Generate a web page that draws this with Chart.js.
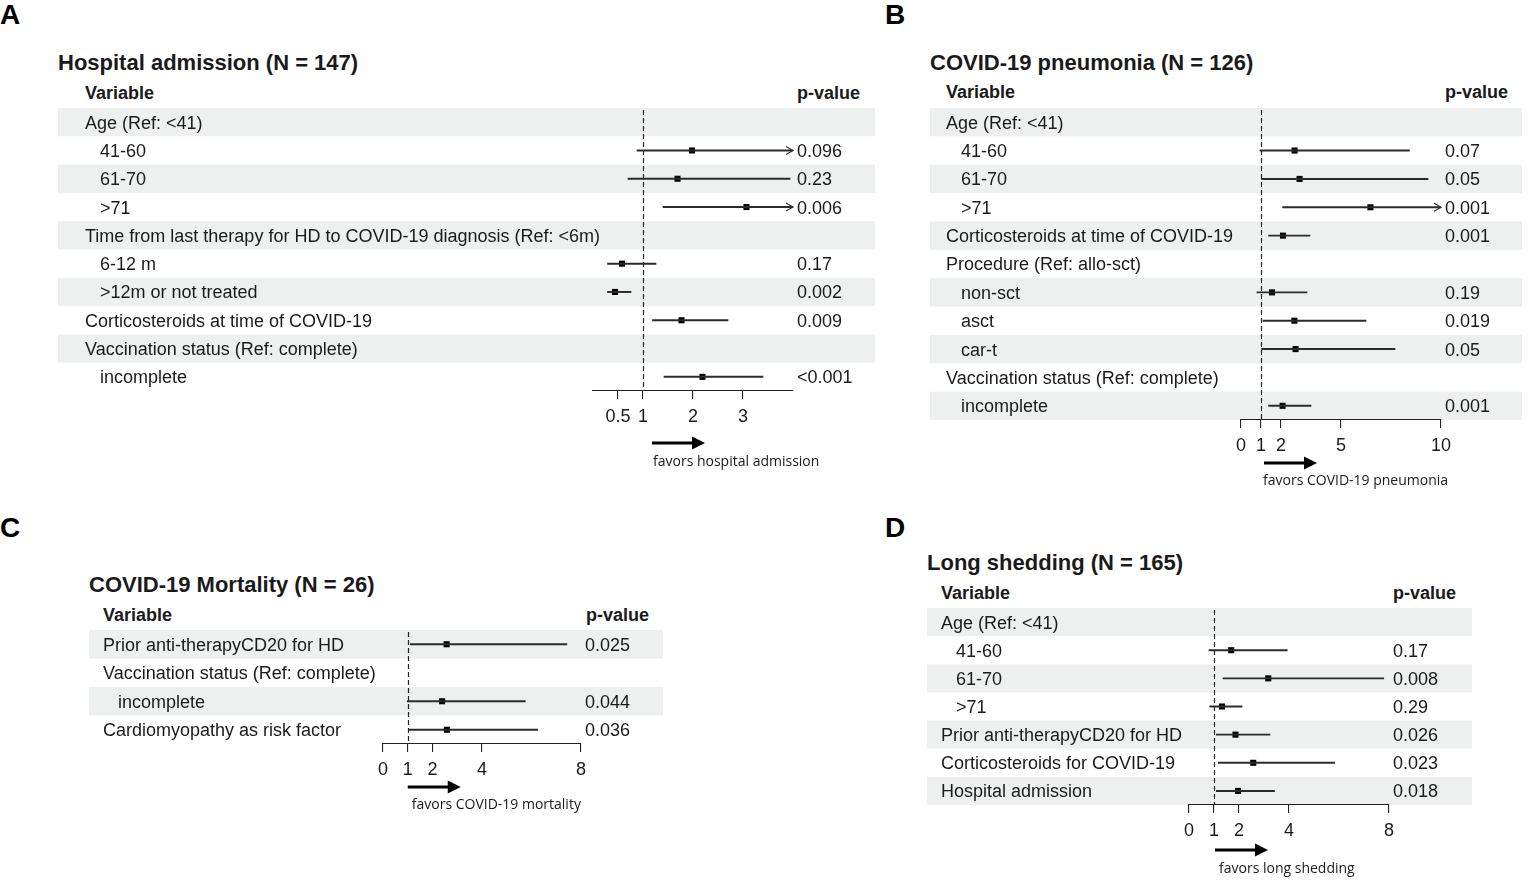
<!DOCTYPE html>
<html>
<head>
<meta charset="utf-8">
<script src="https://cdn.jsdelivr.net/npm/chart.js@4.4.1/dist/chart.umd.min.js"></script>
<style>
  html,body{margin:0;padding:0;background:#fff;}
  body{width:1536px;height:890px;position:relative;overflow:hidden;font-family:"Liberation Sans",Arial,sans-serif;color:#1a1a1a;}
  .t{position:absolute;white-space:nowrap;}
  .letter{font-weight:bold;font-size:28px;line-height:28px;color:#000;}
  .title{font-weight:bold;font-size:22px;line-height:22px;}
  .hdr{font-weight:bold;font-size:18px;line-height:18px;}
  canvas{position:absolute;}
</style>
</head>
<body>
<div class="t letter" style="left:0px;top:1px;">A</div>
<div class="t letter" style="left:885px;top:1px;">B</div>
<div class="t letter" style="left:0px;top:514px;">C</div>
<div class="t letter" style="left:885px;top:514px;">D</div>

<div class="t title" style="left:58px;top:52px;">Hospital admission (N = 147)</div>
<div class="t hdr" style="left:85px;top:84px;">Variable</div>
<div class="t hdr" style="left:797px;top:84px;">p-value</div>

<div class="t title" style="left:930px;top:52px;">COVID-19 pneumonia (N = 126)</div>
<div class="t hdr" style="left:946px;top:83px;">Variable</div>
<div class="t hdr" style="left:1445px;top:83px;">p-value</div>

<div class="t title" style="left:89px;top:574px;">COVID-19 Mortality (N = 26)</div>
<div class="t hdr" style="left:103px;top:606px;">Variable</div>
<div class="t hdr" style="left:586px;top:606px;">p-value</div>

<div class="t title" style="left:927px;top:552px;">Long shedding (N = 165)</div>
<div class="t hdr" style="left:941px;top:584px;">Variable</div>
<div class="t hdr" style="left:1393px;top:584px;">p-value</div>

<canvas id="cA"></canvas>
<canvas id="cB"></canvas>
<canvas id="cC"></canvas>
<canvas id="cD"></canvas>

<script>
// ---------------- DATA ----------------
// Panel A: Hospital admission
const labelsA = ['Age (Ref: <41)', '   41-60', '   61-70', '   >71',
  'Time from last therapy for HD to COVID-19 diagnosis (Ref: <6m)', '   6-12 m', '   >12m or not treated',
  'Corticosteroids at time of COVID-19', 'Vaccination status (Ref: complete)', '   incomplete'];
const orA = [null, 1.98, 1.69, 3.07, null, 0.58, 0.44, 1.77, null, 2.19];
const loA = [null, 0.88, 0.70, 1.40, null, 0.29, 0.29, 1.19, null, 1.42];
const hiA = [null, 4.6, 3.94, 4.8, null, 1.26, 0.76, 2.70, null, 3.40];
const pA = ['', '0.096', '0.23', '0.006', '', '0.17', '0.002', '0.009', '', '<0.001'];
const ticksA = [0.5, 1, 2, 3];
const tickLabelsA = ['0.5', '1', '2', '3'];
const favorsA = 'favors hospital admission';

// Panel B: COVID-19 pneumonia
const labelsB = ['Age (Ref: <41)', '   41-60', '   61-70', '   >71',
  'Corticosteroids at time of COVID-19', 'Procedure (Ref: allo-sct)', '   non-sct', '   asct', '   car-t',
  'Vaccination status (Ref: complete)', '   incomplete'];
const orB = [null, 2.68, 2.93, 6.47, 2.10, null, 1.55, 2.67, 2.73, null, 2.08];
const loB = [null, 0.95, 1.03, 2.08, 1.38, null, 0.80, 1.10, 1.03, null, 1.38];
const hiB = [null, 8.42, 9.35, 12.0, 3.45, null, 3.30, 6.25, 7.70, null, 3.50];
const pB = ['', '0.07', '0.05', '0.001', '0.001', '', '0.19', '0.019', '0.05', '', '0.001'];
const ticksB = [0, 1, 2, 5, 10];
const tickLabelsB = ['0', '1', '2', '5', '10'];
const favorsB = 'favors COVID-19 pneumonia';

// Panel C: COVID-19 Mortality
const labelsC = ['Prior anti-therapyCD20 for HD', 'Vaccination status (Ref: complete)', '   incomplete', 'Cardiomyopathy as risk factor'];
const orC = [2.57, null, 2.39, 2.58];
const loC = [1.10, null, 0.98, 1.05];
const hiC = [7.43, null, 5.75, 6.25];
const pC = ['0.025', '', '0.044', '0.036'];
const ticksC = [0, 1, 2, 4, 8];
const tickLabelsC = ['0', '1', '2', '4', '8'];
const favorsC = 'favors COVID-19 mortality';

// Panel D: Long shedding
const labelsD = ['Age (Ref: <41)', '   41-60', '   61-70', '   >71',
  'Prior anti-therapyCD20 for HD', 'Corticosteroids for COVID-19', 'Hospital admission'];
const orD = [null, 1.69, 3.17, 1.32, 1.86, 2.57, 1.96];
const loD = [null, 0.80, 1.36, 0.83, 1.09, 1.17, 1.09];
const hiD = [null, 3.93, 7.79, 2.12, 3.24, 5.83, 3.42];
const pD = ['', '0.17', '0.008', '0.29', '0.026', '0.023', '0.018'];
const ticksD = [0, 1, 2, 4, 8];
const tickLabelsD = ['0', '1', '2', '4', '8'];
const favorsD = 'favors long shedding';

// ---------------- LAYOUT (positions / styles) ----------------
const FONT = '"Liberation Sans", Arial, sans-serif';
const TEXT = '#1a1a1a';
const STRIPE = '#eef0ef';

const forestPlugin = {
  id: 'forest',
  beforeDraw(chart) {
    const {ctx, chartArea, scales} = chart;
    const y = scales.y;
    const n = y.getLabels().length;
    const h = (chartArea.bottom - chartArea.top) / n;
    ctx.save();
    ctx.fillStyle = STRIPE;
    for (let i = 0; i < n; i++) {
      if (i % 2 === 0) {
        const cy = y.getPixelForValue(i);
        ctx.fillRect(0, cy - h / 2, chart.width, h);
      }
    }
    ctx.restore();
  },
  beforeDatasetsDraw(chart) {
    const {ctx, chartArea, scales} = chart;
    const px = Math.round(scales.x.getPixelForValue(1)) + 0.5;
    ctx.save();
    ctx.strokeStyle = '#222';
    ctx.lineWidth = 1.2;
    ctx.setLineDash([5, 3]);
    ctx.beginPath();
    ctx.moveTo(px, chartArea.top + 2);
    ctx.lineTo(px, chartArea.bottom);
    ctx.stroke();
    ctx.restore();
  },
  afterDatasetsDraw(chart) {
    const {ctx, scales} = chart;
    const x = scales.x, y = scales.y;
    const ci = chart.data.datasets[0].data;
    ctx.save();
    ctx.strokeStyle = '#333';
    ctx.lineWidth = 1.2;
    ci.forEach((v, i) => {
      if (v && v[1] > x.max) {
        const ex = x.getPixelForValue(x.max);
        const ey = y.getPixelForValue(i);
        ctx.beginPath();
        ctx.moveTo(ex - 7, ey - 4);
        ctx.lineTo(ex, ey);
        ctx.lineTo(ex - 7, ey + 4);
        ctx.stroke();
      }
    });
    ctx.restore();
  },
  afterDraw(chart, args, o) {
    const {ctx, chartArea, scales} = chart;
    const p1 = scales.x.getPixelForValue(1);
    const ay = chartArea.bottom + o.arrowDy;
    const x0 = p1 + o.arrowDx, x1 = x0 + 53;
    ctx.save();
    ctx.fillStyle = '#000';
    ctx.strokeStyle = '#000';
    ctx.lineWidth = 3;
    ctx.beginPath();
    ctx.moveTo(x0, ay);
    ctx.lineTo(x1 - 11, ay);
    ctx.stroke();
    ctx.beginPath();
    ctx.moveTo(x1 - 13, ay - 6.5);
    ctx.lineTo(x1, ay);
    ctx.lineTo(x1 - 13, ay + 6.5);
    ctx.closePath();
    ctx.fill();
    ctx.font = '14px "Open Sans", "Noto Sans", sans-serif';
    ctx.fillStyle = '#1a1a1a';
    ctx.textBaseline = 'middle';
    ctx.textAlign = 'left';
    ctx.fillText(o.text, p1 + o.textDx, chartArea.bottom + o.textDy);
    ctx.restore();
  }
};

function makePanel(id, box, labels, or, lo, hi, pvals, tickVals, tickLabels, favors) {
  const cv = document.getElementById(id);
  cv.width = box.width; cv.height = box.height;
  cv.style.left = box.left + 'px'; cv.style.top = box.top + 'px';
  cv.style.width = box.width + 'px'; cv.style.height = box.height + 'px';
  const ci = lo.map((l, i) => (l === null ? null : [l, hi[i]]));
  new Chart(cv, {
    type: 'bar',
    data: {
      labels: labels,
      datasets: [
        {
          type: 'bar', indexAxis: 'y', xAxisID: 'x', yAxisID: 'y',
          data: ci, backgroundColor: '#2b2b2b', borderWidth: 0,
          barThickness: 1.3, clip: 0
        },
        {
          type: 'line', indexAxis: 'y', xAxisID: 'x', yAxisID: 'y',
          data: or, showLine: false, pointStyle: 'rect', pointRadius: 4.3,
          pointBackgroundColor: '#000', pointBorderWidth: 0, clip: false
        }
      ]
    },
    options: {
      indexAxis: 'y',
      responsive: false,
      animation: false,
      events: [],
      layout: { autoPadding: false, padding: { left: box.padLeft, right: 0, top: 0, bottom: box.padBottom } },
      plugins: {
        legend: { display: false }, title: { display: false }, tooltip: { enabled: false },
        forest: { arrowDx: box.arrowDx, arrowDy: box.arrowDy, textDx: box.textDx, textDy: box.textDy, text: favors }
      },
      scales: {
        x: {
          type: 'linear', position: 'bottom', min: box.xMin, max: box.xMax,
          afterBuildTicks: (s) => { s.ticks = tickVals.map(v => ({ value: v })); },
          afterFit: (s) => { s.height = 40; s.paddingLeft = 0; s.paddingRight = 0; },
          ticks: {
            autoSkip: false, maxRotation: 0, padding: 7,
            callback: (v, i) => tickLabels[i],
            font: { family: FONT, size: 18 }, color: TEXT
          },
          grid: { display: true, drawOnChartArea: false, drawTicks: true, tickLength: 8, color: '#222', lineWidth: 1.1 },
          border: { display: true, color: '#222', width: 1.1 }
        },
        y: {
          type: 'category', position: 'left', offset: true,
          afterFit: (s) => { s.width = box.leftW; s.paddingTop = 0; s.paddingBottom = 0; },
          ticks: { autoSkip: false, mirror: true, crossAlign: 'near', padding: -box.leftW, labelOffset: 1.5,
            font: { family: FONT, size: 18 }, color: TEXT },
          grid: { display: false, drawTicks: false },
          border: { display: false }
        },
        y2: {
          type: 'category', position: 'right', offset: true, labels: pvals,
          afterFit: (s) => { s.width = box.rightW; s.paddingTop = 0; s.paddingBottom = 0; },
          ticks: { autoSkip: false, crossAlign: 'near', padding: 4, labelOffset: 1.5,
            font: { family: FONT, size: 18 }, color: TEXT },
          grid: { display: false, drawTicks: false },
          border: { display: false }
        }
      }
    },
    plugins: [forestPlugin]
  });
}

makePanel('cA', { left: 58, top: 108, width: 817, height: 368, padLeft: 27, padBottom: 45, leftW: 508, rightW: 82,
  xMin: 0, xMax: 4, arrowDx: 9, arrowDy: 52, textDx: 10, textDy: 71 },
  labelsA, orA, loA, hiA, pA, ticksA, tickLabelsA, favorsA);

makePanel('cB', { left: 930, top: 108, width: 592, height: 397, padLeft: 16, padBottom: 45, leftW: 295, rightW: 81,
  xMin: 0, xMax: 10, arrowDx: 3, arrowDy: 43, textDx: 2, textDy: 61 },
  labelsB, orB, loB, hiB, pB, ticksB, tickLabelsB, favorsB);

makePanel('cC', { left: 89, top: 630, width: 574, height: 194, padLeft: 14, padBottom: 40, leftW: 280, rightW: 82,
  xMin: 0, xMax: 8, arrowDx: 0, arrowDy: 43, textDx: 4, textDy: 61 },
  labelsC, orC, loC, hiC, pC, ticksC, tickLabelsC, favorsC);

makePanel('cD', { left: 927, top: 608, width: 545, height: 277, padLeft: 14, padBottom: 40, leftW: 248, rightW: 83,
  xMin: 0, xMax: 8, arrowDx: 1, arrowDy: 45, textDx: 5, textDy: 64 },
  labelsD, orD, loD, hiD, pD, ticksD, tickLabelsD, favorsD);
</script>
</body>
</html>
